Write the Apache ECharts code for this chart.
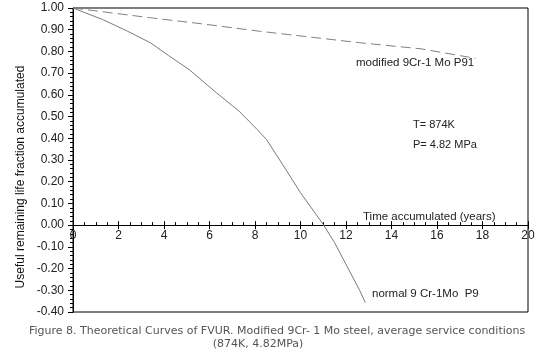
<!DOCTYPE html>
<html>
<head>
<meta charset="utf-8">
<script src="https://cdn.jsdelivr.net/npm/echarts@6/dist/echarts.min.js"></script>
<style>
  html, body { margin: 0; padding: 0; background: #fff; }
  #chart { width: 546px; height: 358px; }
</style>
</head>
<body>
<div id="chart"></div>
<script>
// normal 9Cr-1Mo P9 (solid)
var p9Years = [0, 1.3, 2.4, 3.4, 4.2, 5.1, 6.3, 7.3, 8.1, 8.5, 9.4, 10.0, 11.0, 11.5, 12.6, 12.85];
var p9Values = [1.00, 0.947, 0.893, 0.84, 0.781, 0.717, 0.61, 0.525, 0.44, 0.395, 0.249, 0.149, 0.003, -0.081, -0.30, -0.357];

// modified 9Cr-1Mo P91 (dashed)
var p91Years = [0, 3.4, 5.6, 8.2, 12.6, 15.3, 17.7];
var p91Values = [1.00, 0.955, 0.928, 0.893, 0.84, 0.812, 0.768];

var yTickLabels = ["-0.40", "-0.30", "-0.20", "-0.10", "0.00", "0.10", "0.20",
  "0.30", "0.40", "0.50", "0.60", "0.70", "0.80", "0.90", "1.00"];

var yMin = -0.4, yMax = 1.0;
var gridTop = 8, gridBottom = 46, chartHeight = 358;

var textFont = "'Liberation Sans', Arial, sans-serif";
var captionFont = "'DejaVu Sans', sans-serif";

function pairs(xs, ys) {
  return xs.map(function (x, i) { return [x, ys[i]]; });
}

// distance from the grid bottom up to the zero line (the time axis sits there)
var plotHeight = chartHeight - gridTop - gridBottom;
var zeroOffset = -plotHeight * (0 - yMin) / (yMax - yMin);

var chart = echarts.init(document.getElementById("chart"));

chart.setOption({
  animation: false,
  grid: {
    left: 73, right: 18, top: gridTop, bottom: gridBottom,
    show: true, borderColor: "#000", borderWidth: 1, backgroundColor: "transparent"
  },
  xAxis: [{
    // zero line with labels, ticks and minor ticks pointing up
    type: "value", min: 0, max: 20, interval: 2, position: "bottom", offset: zeroOffset,
    axisLine: { show: true, onZero: false, lineStyle: { color: "#000", width: 1 } },
    axisTick: { show: true, inside: true, length: 4, lineStyle: { color: "#000" } },
    minorTick: { show: true, splitNumber: 4, length: 3, lineStyle: { color: "#000" } },
    axisLabel: { margin: 5, color: "#222", fontFamily: textFont, fontSize: 12 },
    splitLine: { show: false }
  }, {
    // major ticks below the zero line
    type: "value", min: 0, max: 20, interval: 2, position: "bottom", offset: zeroOffset,
    axisLine: { show: false, onZero: false },
    axisTick: { show: true, inside: false, length: 4, lineStyle: { color: "#000" } },
    axisLabel: { show: false },
    splitLine: { show: false }
  }],
  yAxis: {
    type: "value", min: yMin, max: yMax, interval: 0.1,
    axisLine: { show: true, onZero: false, lineStyle: { color: "#000", width: 1 } },
    axisTick: { show: true, inside: false, length: 5, lineStyle: { color: "#000" } },
    minorTick: { show: true, splitNumber: 5, length: 3, lineStyle: { color: "#000" } },
    axisLabel: {
      margin: 9, color: "#222", fontFamily: textFont, fontSize: 12,
      formatter: function (v) { return yTickLabels[Math.round((v - yMin) / 0.1)]; }
    },
    splitLine: { show: false }
  },
  series: [{
    name: "normal 9 Cr-1Mo P9",
    type: "line",
    data: pairs(p9Years, p9Values),
    showSymbol: false,
    lineStyle: { color: "#7a7a7a", width: 1 }
  }, {
    name: "modified 9Cr-1 Mo P91",
    type: "line",
    data: pairs(p91Years, p91Values),
    showSymbol: false,
    lineStyle: { color: "#808080", width: 1, type: [10, 5] }
  }],
  graphic: [
    { type: "text", x: 21, y: 177, rotation: Math.PI / 2,
      style: { text: "Useful remaining life fraction accumulated", fill: "#111", font: "12px " + textFont, align: "center", verticalAlign: "middle" } },
    { type: "text", x: 356, y: 63,
      style: { text: "modified 9Cr-1 Mo P91", fill: "#222", font: "11.5px " + textFont, verticalAlign: "middle" } },
    { type: "text", x: 413, y: 125,
      style: { text: "T= 874K", fill: "#222", font: "11px " + textFont, verticalAlign: "middle" } },
    { type: "text", x: 413, y: 145,
      style: { text: "P= 4.82 MPa", fill: "#222", font: "11px " + textFont, verticalAlign: "middle" } },
    { type: "text", x: 363, y: 217,
      style: { text: "Time accumulated (years)", fill: "#222", font: "11.5px " + textFont, verticalAlign: "middle" } },
    { type: "text", x: 372, y: 294,
      style: { text: "normal 9 Cr-1Mo  P9", fill: "#222", font: "11.5px " + textFont, verticalAlign: "middle" } },
    { type: "text", x: 29, y: 331,
      style: { text: "Figure 8. Theoretical Curves of FVUR. Modified 9Cr- 1 Mo steel, average service conditions", fill: "#555", font: "11px " + captionFont, verticalAlign: "middle" } },
    { type: "text", x: 258, y: 344,
      style: { text: "(874K, 4.82MPa)", fill: "#555", font: "11px " + captionFont, align: "center", verticalAlign: "middle" } }
  ]
});
</script>
</body>
</html>
